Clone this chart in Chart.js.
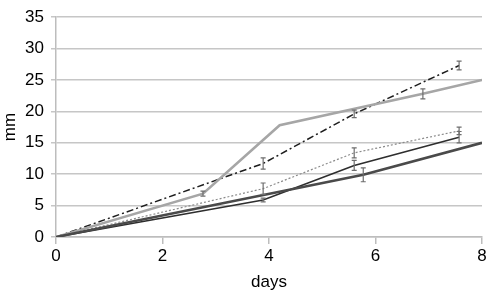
<!DOCTYPE html>
<html>
<head>
<meta charset="utf-8">
<script src="https://cdn.jsdelivr.net/npm/chart.js@4"></script>
<style>
  html, body { margin: 0; padding: 0; background: #fff; }
  #wrap { width: 490px; height: 297px; }
</style>
</head>
<body>
<div id="wrap"><canvas id="myChart"></canvas></div>
<script>
// values
const xTicks = [0, 2, 4, 6, 8];
const yTicks = [0, 5, 10, 15, 20, 25, 30, 35];

const grayDays = [0, 2.76, 4.2, 6.89, 8];
const grayMm = [0, 6.9, 17.8, 22.8, 25];
const grayErr = [0, 0.4, 0, 0.8, 0];

const dashDays = [0, 3.89, 5.6, 7.57];
const dashMm = [0, 11.7, 19.6, 27.3];
const dashErr = [0, 0.9, 0.6, 0.7];

const dotDays = [0, 3.89, 5.6, 7.57];
const dotMm = [0, 7.7, 13.4, 16.9];
const dotErr = [0, 0.9, 0.8, 0.6];

const thinDays = [0, 3.89, 5.6, 7.57];
const thinMm = [0, 5.9, 11.4, 15.9];
const thinErr = [0, 0.3, 0.8, 0.9];

const thickDays = [0, 5.77, 8];
const thickMm = [0, 9.9, 15];
const thickErr = [0, 1.1, 0];

function pts(xs, ys) {
  return xs.map(function (x, i) { return { x: x, y: ys[i] }; });
}

// draws the little I shaped error bars
const errorBars = {
  id: 'errorBars',
  afterDatasetsDraw: function (chart) {
    const c = chart.ctx;
    const xs = chart.scales.x, ys = chart.scales.y;
    c.save();
    c.strokeStyle = '#6e6e6e';
    c.lineWidth = 1.2;
    chart.data.datasets.forEach(function (ds) {
      ds.data.forEach(function (p, i) {
        const e = ds.err[i];
        if (!e) return;
        const px = xs.getPixelForValue(p.x);
        const top = ys.getPixelForValue(p.y + e);
        const bot = ys.getPixelForValue(p.y - e);
        c.beginPath();
        c.moveTo(px, top); c.lineTo(px, bot);
        c.moveTo(px - 2.5, top); c.lineTo(px + 2.5, top);
        c.moveTo(px - 2.5, bot); c.lineTo(px + 2.5, bot);
        c.stroke();
      });
    });
    c.restore();
  }
};

const ctx = document.getElementById('myChart');
const font = { family: 'Liberation Sans, Arial, sans-serif', size: 17 };

const myChart = new Chart(ctx, {
  type: 'line',
  data: {
    datasets: [
      { data: pts(thickDays, thickMm), err: thickErr, borderColor: '#4a4a4a', borderWidth: 2.6 },
      { data: pts(thinDays, thinMm), err: thinErr, borderColor: '#2e2e2e', borderWidth: 1.6 },
      { data: pts(dotDays, dotMm), err: dotErr, borderColor: '#8a8a8a', borderWidth: 1.2, borderDash: [2, 2] },
      { data: pts(grayDays, grayMm), err: grayErr, borderColor: '#a6a6a6', borderWidth: 2.6 },
      { data: pts(dashDays, dashMm), err: dashErr, borderColor: '#1e1e1e', borderWidth: 1.5, borderDash: [7, 3, 2, 3] }
    ]
  },
  options: {
    responsive: true,
    maintainAspectRatio: false,
    animation: false,
    layout: { padding: { top: 10, right: 8, left: 0, bottom: 0 } },
    elements: {
      point: { radius: 0 },
      line: { tension: 0, borderCapStyle: 'butt' }
    },
    plugins: { legend: { display: false }, tooltip: { enabled: false } },
    scales: {
      x: {
        type: 'linear',
        min: 0, max: 8,
        afterBuildTicks: function (s) { s.ticks = xTicks.map(function (v) { return { value: v }; }); },
        afterFit: function (s) { s.height = 60; },
        grid: { drawOnChartArea: false, drawTicks: true, tickLength: 7, color: '#bdbdbd', lineWidth: 1.5 },
        border: { color: '#bdbdbd', width: 1.5 },
        ticks: { font: font, color: '#000', padding: 2, maxRotation: 0 },
        title: { display: true, text: 'days', font: font, color: '#000', padding: { bottom: 4, top: 0 } }
      },
      y: {
        min: 0, max: 35,
        afterBuildTicks: function (s) { s.ticks = yTicks.map(function (v) { return { value: v }; }); },
        afterFit: function (s) { s.width = 56; },
        grid: { color: '#c6c6c6', lineWidth: 1.5, tickLength: 5 },
        border: { color: '#bdbdbd', width: 1.5 },
        ticks: { font: font, color: '#000', padding: 7 },
        title: { display: true, text: 'mm', font: font, color: '#000', padding: { top: 0, bottom: 0 } }
      }
    }
  },
  plugins: [errorBars]
});
</script>
</body>
</html>
